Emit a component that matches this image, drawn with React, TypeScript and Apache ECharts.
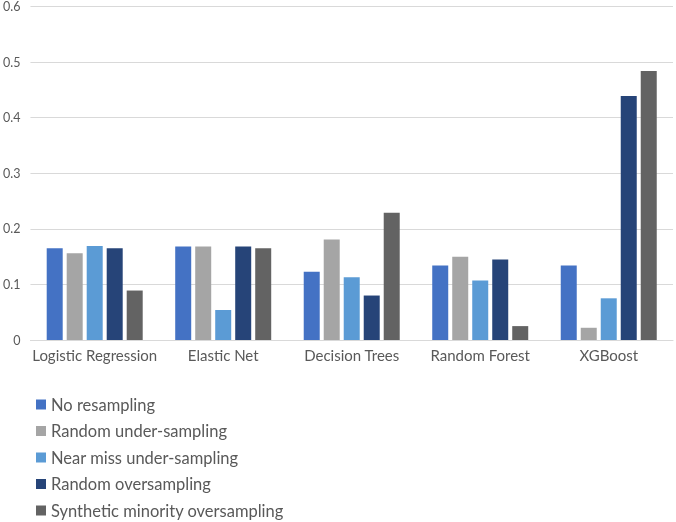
import React, { useEffect, useRef } from "react";
import * as echarts from "echarts";

const categories = ["Logistic Regression", "Elastic Net", "Decision Trees", "Random Forest", "XGBoost"];
const seriesNames = [
  "No resampling",
  "Random under-sampling",
  "Near miss under-sampling",
  "Random oversampling",
  "Synthetic minority oversampling",
];
const noResampling = [0.165, 0.168, 0.123, 0.134, 0.134];
const randomUnder = [0.156, 0.168, 0.181, 0.15, 0.022];
const nearMiss = [0.169, 0.054, 0.113, 0.107, 0.075];
const randomOver = [0.165, 0.168, 0.08, 0.145, 0.439];
const smote = [0.089, 0.165, 0.229, 0.025, 0.484];
const colors = ["#4472C4", "#A5A5A5", "#5B9BD5", "#264478", "#636363"];
const yTicks = [0, 0.1, 0.2, 0.3, 0.4, 0.5, 0.6];

export default function App() {
  const ref = useRef<HTMLDivElement>(null);
  useEffect(() => {
    if (!ref.current) return;
    const chart = echarts.init(ref.current, null, { renderer: "svg" });
    const data = [noResampling, randomUnder, nearMiss, randomOver, smote];
    chart.setOption({
      animation: false,
      textStyle: { fontFamily: "Lato, 'Noto Sans', sans-serif" },
      grid: { left: 27, right: 3, top: 6, bottom: 182, containLabel: false },
      legend: {
        orient: "vertical",
        left: 36,
        top: 396,
        height: 200,
        padding: 0,
        itemWidth: 10,
        itemHeight: 10,
        itemGap: 9.5,
        icon: "rect",
        textStyle: { fontSize: 16.5, color: "#595959", lineHeight: 16 },
        data: seriesNames,
      },
      xAxis: {
        type: "category",
        data: categories,
        axisLine: { lineStyle: { color: "#D9D9D9" } },
        axisTick: { show: false },
        axisLabel: { fontSize: 15, color: "#595959", margin: 7, interval: 0 },
      },
      yAxis: {
        type: "value",
        min: yTicks[0],
        max: yTicks[yTicks.length - 1],
        interval: 0.1,
        axisLine: { show: false },
        axisTick: { show: false },
        splitLine: { lineStyle: { color: "#D9D9D9" } },
        axisLabel: { fontSize: 12.5, color: "#595959", margin: 10 },
      },
      series: seriesNames.map((name, i) => ({
        name,
        type: "bar",
        data: data[i],
        barWidth: 16,
        barGap: "25%",
        itemStyle: { color: colors[i] },
      })),
    });
    return () => chart.dispose();
  }, []);
  return <div ref={ref} style={{ position: "fixed", left: 0, top: 0, width: 676, height: 522 }} />;
}
